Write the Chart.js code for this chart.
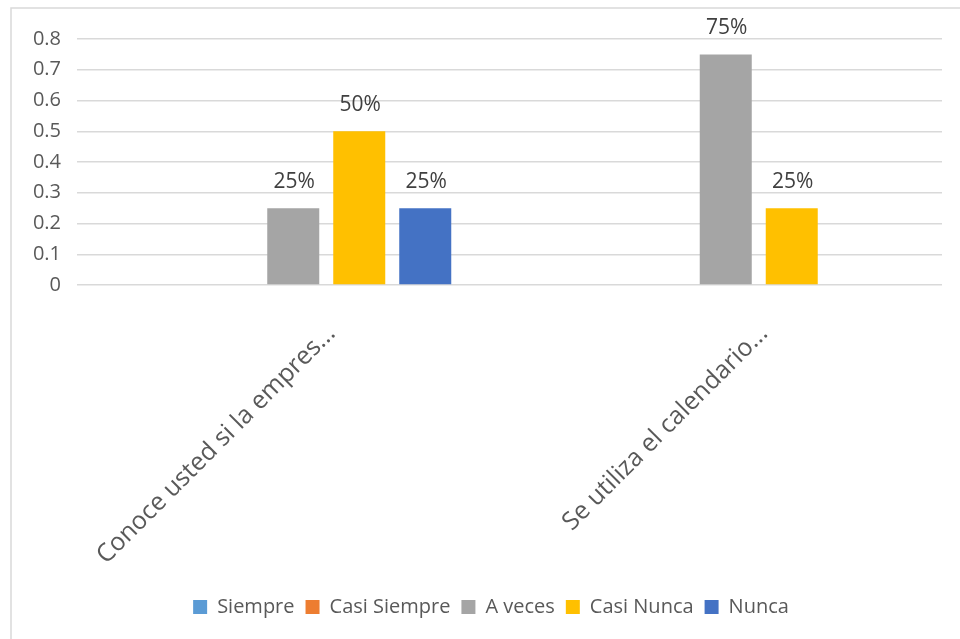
<!DOCTYPE html>
<html>
<head>
<meta charset="utf-8">
<script src="https://cdn.jsdelivr.net/npm/chart.js@4/dist/chart.umd.min.js"></script>
<style>
  html, body { margin: 0; padding: 0; background: #fff; }
  #wrap { position: relative; width: 960px; height: 639px; }
</style>
</head>
<body>
<div id="wrap"><canvas id="c" width="960" height="639"></canvas></div>
<script>
const categories = ['Conoce usted si la empres...', 'Se utiliza el calendario...'];
const seriesNames = ['Siempre', 'Casi Siempre', 'A veces', 'Casi Nunca', 'Nunca'];
const siempre = [0, 0];
const casiSiempre = [0, 0];
const aVeces = [0.25, 0.75];
const casiNunca = [0.5, 0.25];
const nunca = [0.25, 0];
const yTicks = ['0', '0.1', '0.2', '0.3', '0.4', '0.5', '0.6', '0.7', '0.8'];
const colors = ['#5B9BD5', '#ED7D31', '#A5A5A5', '#FFC000', '#4472C4'];

const FONT = '"Open Sans", "DejaVu Sans", sans-serif';
const TXT = '#595959';

const frame = {
  id: 'frame',
  beforeDraw(chart) {
    const ctx = chart.ctx;
    ctx.save();
    ctx.fillStyle = '#fff';
    ctx.fillRect(0, 0, chart.width, chart.height);
    ctx.strokeStyle = '#d9d9d9';
    ctx.lineWidth = 1.5;
    ctx.beginPath();
    ctx.moveTo(11, chart.height);
    ctx.lineTo(11, 8);
    ctx.lineTo(chart.width, 8);
    ctx.stroke();
    ctx.restore();
  }
};

const legendShift = {
  id: 'legendShift',
  afterLayout(chart) {
    if (chart.legend) {
      chart.legend.left += 20;
      chart.legend.right += 20;
    }
  }
};

const dataLabels = {
  id: 'dataLabels',
  afterDatasetsDraw(chart) {
    const ctx = chart.ctx;
    ctx.save();
    ctx.font = '21px ' + FONT;
    ctx.fillStyle = '#404040';
    ctx.textAlign = 'center';
    ctx.textBaseline = 'alphabetic';
    chart.data.datasets.forEach((ds, i) => {
      const meta = chart.getDatasetMeta(i);
      meta.data.forEach((el, j) => {
        const v = ds.data[j];
        if (v > 0) {
          ctx.fillText(Math.round(v * 100) + '%', el.x + 1, el.y - 20);
        }
      });
    });
    ctx.restore();
  }
};

const allSeries = [siempre, casiSiempre, aVeces, casiNunca, nunca];

new Chart(document.getElementById('c'), {
  type: 'bar',
  data: {
    labels: categories,
    datasets: seriesNames.map((n, i) => ({
      label: n,
      data: allSeries[i],
      backgroundColor: colors[i],
      borderWidth: 0,
      categoryPercentage: 0.763,
      barPercentage: 0.788
    }))
  },
  options: {
    responsive: false,
    animation: false,
    events: [],
    layout: { padding: { left: 0, right: 18, top: 39, bottom: 12 } },
    plugins: {
      legend: {
        position: 'bottom',
        labels: {
          font: { family: FONT, size: 20 },
          color: TXT,
          boxWidth: 14,
          boxHeight: 14,
          padding: 11
        }
      },
      tooltip: { enabled: false }
    },
    scales: {
      x: {
        grid: { display: false },
        border: { display: false },
        ticks: {
          font: { family: FONT, size: 25 },
          color: TXT,
          maxRotation: 45,
          minRotation: 45,
          autoSkip: false,
          padding: 26,
          labelOffset: 38
        },
        afterFit(scale) { scale.height = 301; }
      },
      y: {
        min: 0,
        max: 0.8,
        border: { display: false },
        grid: { color: '#d9d9d9', lineWidth: 1.5, drawTicks: false },
        ticks: {
          stepSize: 0.1,
          font: { family: FONT, size: 20 },
          color: TXT,
          padding: 16,
          callback: (v, i) => yTicks[i]
        },
        afterFit(scale) { scale.width = 77; }
      }
    }
  },
  plugins: [frame, legendShift, dataLabels]
});
</script>
</body>
</html>
